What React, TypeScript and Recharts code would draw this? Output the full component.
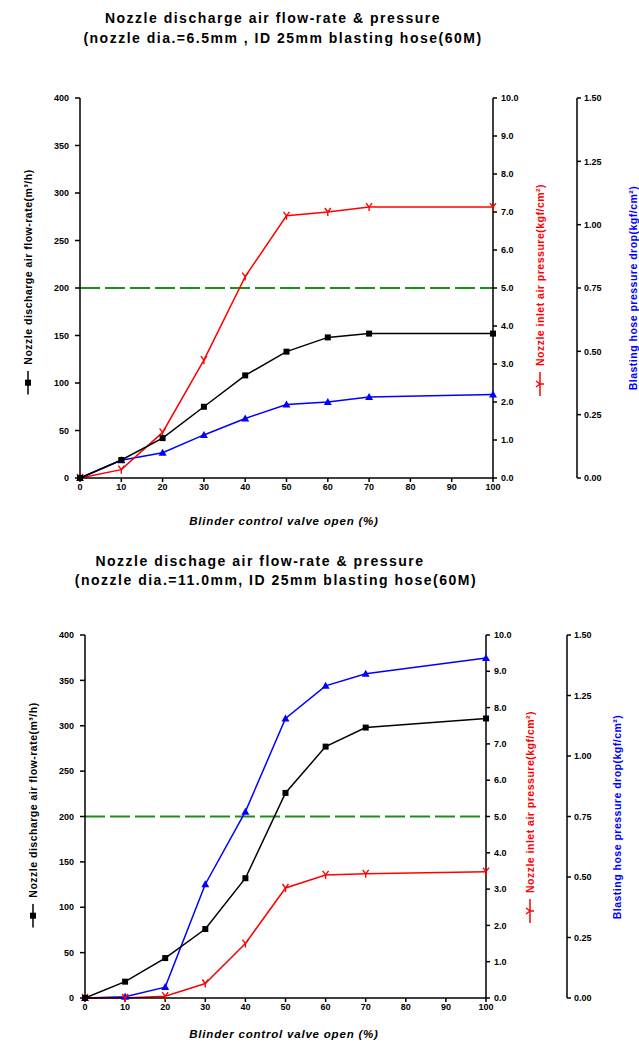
import React from "react";
import { LineChart, Line, XAxis, YAxis, ReferenceLine } from "recharts";

// valve opening (%) at which readings were taken
const openPct = [0, 10, 20, 30, 40, 50, 60, 70, 100];

// nozzle dia. 6.5mm
const flow65 = [0, 19, 42, 75, 108, 133, 148, 152, 152];
const inlet65 = [0, 0.22, 1.2, 3.1, 5.3, 6.9, 7.0, 7.13, 7.13];
const drop65 = [0, 0.07, 0.1, 0.17, 0.235, 0.29, 0.3, 0.32, 0.33];

// nozzle dia. 11.0mm
const flow110 = [0, 18, 44, 76, 132, 226, 277, 298, 308];
const inlet110 = [0, 0, 0.05, 0.4, 1.5, 3.03, 3.39, 3.42, 3.48];
const drop110 = [0, 0.005, 0.045, 0.47, 0.77, 1.155, 1.29, 1.34, 1.405];

const xTicks = [0, 10, 20, 30, 40, 50, 60, 70, 80, 90, 100];
const flowTicks = [0, 50, 100, 150, 200, 250, 300, 350, 400];
const pressTicks = [0, 1, 2, 3, 4, 5, 6, 7, 8, 9, 10];
const dropTicks = [0, 0.25, 0.5, 0.75, 1.0, 1.25, 1.5];

const FONT = "'Liberation Sans', Arial, sans-serif";
const tickStyle = { fontSize: 9, fontWeight: 700, fill: "#000", fontFamily: FONT };

const buildRows = (flow: number[], inlet: number[], drop: number[]) =>
  openPct.map((x, i) => ({ x, flow: flow[i], inlet: inlet[i], drop: drop[i] }));

const SquareDot = (p: any) => {
  if (p.cx == null) return null;
  return <rect key={p.index} x={p.cx - 3} y={p.cy - 3} width={6} height={6} fill="#000" />;
};
const TriDot = (p: any) => {
  if (p.cx == null) return null;
  return (
    <path key={p.index} d={`M${p.cx},${p.cy - 4} L${p.cx + 4},${p.cy + 3} L${p.cx - 4},${p.cy + 3} Z`} fill="#0000ff" />
  );
};
const TickDot = (p: any) => {
  if (p.cx == null) return null;
  return (
    <path
      key={p.index}
      d={`M${p.cx - 3},${p.cy - 4} L${p.cx},${p.cy} L${p.cx + 3},${p.cy - 4} M${p.cx},${p.cy} L${p.cx},${p.cy + 4}`}
      stroke="#ff0000"
      strokeWidth={1.4}
      fill="none"
    />
  );
};

type PanelProps = {
  rows: any[];
  top: number;
  height: number;
  plotTop: number;
  plotBottom: number;
  plotLeft: number;
  plotRight: number;
  dropAxisX: number;
};

function Panel({ rows, top, height, plotTop, plotBottom, plotLeft, plotRight, dropAxisX }: PanelProps) {
  const leftW = 40;
  const rightW1 = dropAxisX - plotRight;
  const rightW2 = 40;
  const xH = 30;
  const margin = {
    top: plotTop,
    left: plotLeft - leftW,
    right: 639 - plotRight - rightW1 - rightW2,
    bottom: height - plotBottom - xH,
  };
  return (
    <div style={{ position: "absolute", left: 0, top }}>
      <LineChart width={639} height={height} data={rows} margin={margin}>
        <XAxis
          dataKey="x"
          type="number"
          domain={[0, 100]}
          ticks={xTicks}
          height={xH}
          tick={tickStyle}
          tickSize={4}
          stroke="#000"
          strokeWidth={1.5}
          interval={0}
        />
        <XAxis xAxisId="top" dataKey="x" type="number" domain={[0, 100]} orientation="top" height={0} tick={false} tickLine={false} stroke="#000" strokeWidth={1.5} />
        <YAxis yAxisId="flow" domain={[0, 400]} ticks={flowTicks} width={leftW} tick={tickStyle} tickSize={5} tickMargin={6} stroke="#000" strokeWidth={1.5} interval={0} />
        <YAxis
          yAxisId="r1"
          orientation="right"
          domain={[0, 10]}
          ticks={pressTicks}
          width={rightW1}
          tick={tickStyle}
          tickSize={4}
          tickMargin={4}
          tickFormatter={(v: number) => v.toFixed(1)}
          stroke="#000"
          strokeWidth={1.5}
          interval={0}
        />
        <YAxis
          yAxisId="r2"
          orientation="right"
          domain={[0, 1.5]}
          ticks={dropTicks}
          width={rightW2}
          tick={tickStyle}
          tickSize={4}
          tickMargin={3}
          tickFormatter={(v: number) => v.toFixed(2)}
          stroke="#000"
          strokeWidth={1.5}
          interval={0}
        />
        <ReferenceLine yAxisId="flow" y={200} stroke="#1a901a" strokeWidth={2} strokeDasharray="20 5" />
        <Line yAxisId="r2" dataKey="drop" stroke="#0000ff" strokeWidth={1.5} dot={TriDot} isAnimationActive={false} />
        <Line yAxisId="r1" dataKey="inlet" stroke="#ff0000" strokeWidth={1.5} dot={TickDot} isAnimationActive={false} />
        <Line yAxisId="flow" dataKey="flow" stroke="#000" strokeWidth={1.5} dot={SquareDot} isAnimationActive={false} />
      </LineChart>
    </div>
  );
}

const txt = (x: number, y: number, s: string, extra: any = {}) => (
  <div
    style={{
      position: "absolute",
      left: x,
      top: y,
      transform: "translate(-50%, -50%)",
      whiteSpace: "nowrap",
      fontFamily: FONT,
      fontSize: 14,
      letterSpacing: 1.5,
      fontWeight: 700,
      color: "#000",
      ...extra,
    }}
  >
    {s}
  </div>
);

function VLabel({ x, y, color, text, marker }: { x: number; y: number; color: string; text: string; marker?: "square" | "tick" }) {
  return (
    <div
      style={{
        position: "absolute",
        left: x,
        top: y,
        transform: "translate(-50%, -50%) rotate(-90deg)",
        whiteSpace: "nowrap",
        fontFamily: FONT,
        fontSize: 10.5,
        letterSpacing: 0.5,
        fontWeight: 700,
        color,
        display: "flex",
        alignItems: "center",
      }}
    >
      {marker && (
        <svg width={24} height={12} style={{ marginRight: 6 }}>
          <line x1={0} y1={6} x2={24} y2={6} stroke={color} strokeWidth={1.5} />
          {marker === "square" ? (
            <rect x={9} y={3} width={6} height={6} fill={color} />
          ) : (
            <path d="M9,2 L12,6 L15,2 M12,6 L12,10" stroke={color} strokeWidth={1.4} fill="none" />
          )}
        </svg>
      )}
      <span>{text}</span>
    </div>
  );
}

export default function App() {
  return (
    <div style={{ position: "absolute", left: 0, top: 0, width: 639, height: 1042, background: "#fff" }}>
      {txt(273, 18, "Nozzle discharge air flow-rate & pressure")}
      {txt(283, 38, "(nozzle dia.=6.5mm , ID 25mm blasting hose(60M)")}
      <Panel rows={buildRows(flow65, inlet65, drop65)} top={0} height={530} plotTop={98} plotBottom={478} plotLeft={80} plotRight={493} dropAxisX={577} />
      {txt(284, 521, "Blinder control valve open (%)", { fontSize: 11.5, letterSpacing: 0.8, fontStyle: "italic" })}
      <VLabel x={28} y={282} color="#000" marker="square" text="Nozzle discharge air flow-rate(m³/h)" />
      <VLabel x={540} y={290} color="#ff0000" marker="tick" text="Nozzle inlet air pressure(kgf/cm²)" />
      <VLabel x={633} y={288} color="#0000ff" text="Blasting hose pressure drop(kgf/cm²)" />

      {txt(260, 561, "Nozzle dischage air flow-rate & pressure")}
      {txt(276, 580, "(nozzle dia.=11.0mm, ID 25mm blasting hose(60M)")}
      <Panel rows={buildRows(flow110, inlet110, drop110)} top={540} height={502} plotTop={95} plotBottom={458} plotLeft={85} plotRight={486} dropAxisX={567} />
      <VLabel x={33} y={815} color="#000" marker="square" text="Nozzle discharge air flow-rate(m³/h)" />
      <VLabel x={530} y={817} color="#ff0000" marker="tick" text="Nozzle inlet air pressure(kgf/cm²)" />
      <VLabel x={617} y={817} color="#0000ff" text="Blasting hose pressure drop(kgf/cm²)" />
      {txt(284, 1034, "Blinder control valve open (%)", { fontSize: 11.5, letterSpacing: 0.8, fontStyle: "italic" })}
    </div>
  );
}
